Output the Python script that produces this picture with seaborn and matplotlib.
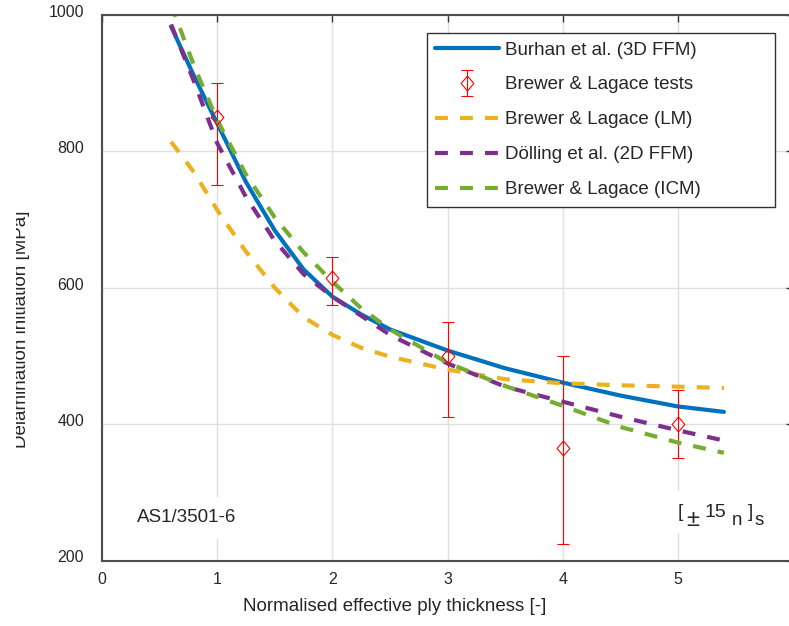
import numpy as np
import pandas as pd
import matplotlib
matplotlib.use("Agg")
import matplotlib.pyplot as plt
import matplotlib.transforms as mtransforms
from matplotlib.container import ErrorbarContainer
from matplotlib.legend_handler import HandlerErrorbar
import seaborn as sns

# valores
x_curve = [0.6, 0.8, 1.0, 1.25, 1.5, 1.75, 2.0, 2.25, 2.5, 3.0, 3.5, 4.0, 4.5, 5.0, 5.4]
burhan_3d = [983, 910, 841, 755, 684, 627, 587, 561, 539, 508, 482, 461, 442, 426, 418]
lagace_lm = [814, 769, 714, 653, 600, 557, 531, 512, 499, 480, 466, 460, 457, 455, 453]
dolling_2d = [986, 902, 812, 733, 669, 620, 587, 559, 531, 489, 455, 433, 411, 391, 376]
lagace_icm = [1015, 925, 846, 766, 703, 652, 609, 570, 539, 490, 456, 427, 396, 373, 358]

test_x = [1, 2, 3, 4, 5]
test_y = [850, 615, 500, 365, 400]
test_lo = [750, 575, 410, 224, 350]
test_hi = [900, 645, 550, 500, 450]

xticks = [0, 1, 2, 3, 4, 5, 6]
yticks = [200, 400, 600, 800, 1000]

labels = ["Burhan et al. (3D FFM)", "Brewer & Lagace tests", "Brewer & Lagace (LM)",
          "Dölling et al. (2D FFM)", "Brewer & Lagace (ICM)"]

df = pd.DataFrame({"x": x_curve, "burhan": burhan_3d, "lm": lagace_lm,
                   "dolling": dolling_2d, "icm": lagace_icm})

sns.set_style("whitegrid")
plt.rcParams["font.family"] = ["Liberation Sans", "DejaVu Sans"]

c_blue = "#0072BD"
c_yellow = "#EDB120"
c_purple = "#7E2F8E"
c_green = "#77AC30"
dash = (0, (3.1, 2.9))
diamond = [(0, 1), (0.85, 0), (0, -1), (-0.85, 0), (0, 1)]

fig = plt.figure(figsize=(7.89, 6.26), dpi=100)
ax = fig.add_axes([0.1293, 0.1045, 0.8758, 0.8716])

sns.lineplot(data=df, x="x", y="burhan", ax=ax, color=c_blue, lw=3, label=labels[0])
yerr = [np.array(test_y) - np.array(test_lo), np.array(test_hi) - np.array(test_y)]
ax.errorbar(test_x, test_y, yerr=yerr, ls="none", marker=diamond, ms=10.8, mfc="none",
            mec="red", mew=0.8, ecolor="red", elinewidth=0.8,
            capsize=4.6, capthick=0.8, label=labels[1])
sns.lineplot(data=df, x="x", y="lm", ax=ax, color=c_yellow, lw=3, ls=dash, label=labels[2])
sns.lineplot(data=df, x="x", y="dolling", ax=ax, color=c_purple, lw=3, ls=dash, label=labels[3])
sns.lineplot(data=df, x="x", y="icm", ax=ax, color=c_green, lw=3, ls=dash, label=labels[4])

ax.set_xlim(0, 6)
ax.set_ylim(200, 1000)
ax.set_xticks(xticks)
ax.set_yticks(yticks)

ax.grid(True, color="#e0e0e0", lw=1.0)
for s in ax.spines.values():
    s.set_color("#4d4d4d")
    s.set_linewidth(1.5)
ax.tick_params(direction="in", length=5, width=1, color="#333333",
               top=True, right=True, labelsize=11.5, labelcolor="#262626")
ax.tick_params(axis="x", pad=8)
ax.tick_params(axis="y", pad=13)

ax.set_xlabel("Normalised effective ply thickness [-]", fontsize=13.5, color="#262626")
ax.set_ylabel("Delamination initiation [MPa]", fontsize=13.5, color="#262626")
ax.xaxis.set_label_coords(0.4233, -0.0686)
ax.yaxis.set_label_coords(-0.1035, 0.4245)
# o rótulo do eixo y aparece cortado na imagem original
ax.yaxis.label.set_clip_on(True)
ax.yaxis.label.set_clip_box(mtransforms.TransformedBbox(
    mtransforms.Bbox.from_extents(15.5 / 789, 0, 1, 1), fig.transFigure))

offset = mtransforms.ScaledTranslation(0, 3 / 72, fig.dpi_scale_trans)
for lab in ax.get_yticklabels():
    lab.set_transform(lab.get_transform() + offset)

box = dict(facecolor="white", edgecolor="none", pad=9)
ax.text(0.30, 263, "AS1/3501-6", fontsize=13.5, va="center", ha="left", bbox=box)
# [±15 n]s montado em partes, como no original
ax.text(5.0, 264, "[", fontsize=13.5, va="baseline", ha="left", bbox=box)
ax.text(5.074, 251, "±", fontsize=17, va="baseline", ha="left")
ax.text(5.235, 264, "15", fontsize=14, va="baseline", ha="left")
ax.text(5.469, 252, "n", fontsize=13.5, va="baseline", ha="left")
ax.text(5.608, 264, "]", fontsize=13.5, va="baseline", ha="left")
ax.text(5.668, 252, "s", fontsize=13.5, va="baseline", ha="left")

h, l = ax.get_legend_handles_labels()
order = [l.index(t) for t in labels]
leg = ax.legend([h[i] for i in order], [l[i] for i in order], loc="upper left",
                bbox_to_anchor=(0.4703, 0.0, 0.5036, 0.967), mode="expand",
                borderaxespad=0, fontsize=13.5, handlelength=3.4, handletextpad=0.3,
                labelspacing=0.95, borderpad=0.45, fancybox=False, framealpha=1,
                handler_map={ErrorbarContainer: HandlerErrorbar(xerr_size=0.5, yerr_size=0.7)})
leg.get_frame().set_edgecolor("#333333")
leg.get_frame().set_linewidth(1.0)

fig.savefig("out.png", dpi=100)
